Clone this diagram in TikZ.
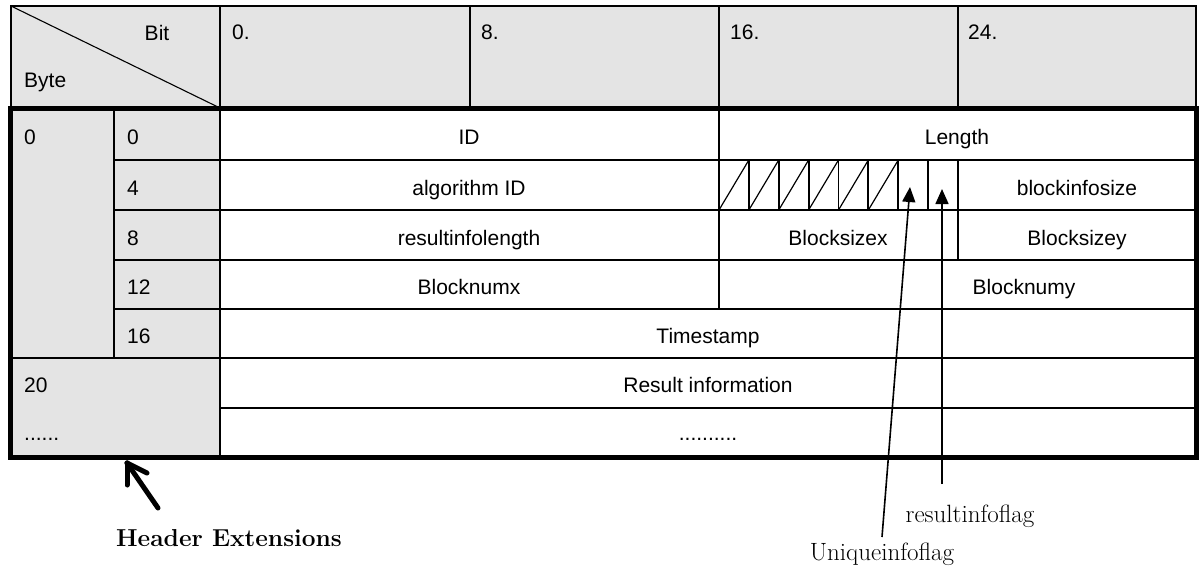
\documentclass[tikz,border=0pt]{standalone}
\usepackage{fontspec}
\newfontfamily\arialf{Liberation Sans}
\usetikzlibrary{arrows.meta}
\definecolor{cellgray}{HTML}{E4E4E4}
\begin{document}
\begin{tikzpicture}[x=1pt,y=-1pt,
  gridline/.style={line width=1.8pt},
  thickline/.style={line width=5pt},
  sans/.style={font=\arialf\fontsize{21}{25}\selectfont, inner sep=0pt, anchor=base},
  sansw/.style={sans, anchor=base west},
  serif/.style={font=\fontsize{25}{29}\selectfont, inner sep=0pt, anchor=base},
  flagarrow/.style={line width=1.6pt, -{Triangle[length=15pt,width=13pt]}},
  bigarrow/.style={line width=5pt, line cap=round, line join=round}]
\useasboundingbox (0,0) rectangle (1200,566);
% gray fills
\fill[cellgray] (11,6) rectangle (1196,108);
\fill[cellgray] (10,108) rectangle (220,457);
% header
\draw[gridline] (11,6) rectangle (1196,108);
\foreach \xx in {220,470,719,958} \draw[gridline] (\xx,6) -- (\xx,108);
\draw[line width=1.1pt] (11,6) -- (220,108);
% body horizontals
\foreach \yy in {160,210,260,309} \draw[gridline] (114,\yy) -- (1196,\yy);
\draw[gridline] (10,358) -- (1196,358);
\draw[gridline] (220,408) -- (1196,408);
% body verticals
\draw[gridline] (114,108) -- (114,358);
\draw[gridline] (220,108) -- (220,457);
\draw[gridline] (719,108) -- (719,309);
\draw[gridline] (958,160) -- (958,260);
\foreach \i in {1,...,7} \draw[gridline] ({719+29.875*\i},160) -- ({719+29.875*\i},210);
\foreach \i in {0,...,5} \draw[line width=1.2pt] ({719+29.875*\i},210) -- ({719+29.875*(\i+1)},160);
% outer thick border
\draw[thickline] (10,108) rectangle (1196,457);
% header texts
\node[sans] (bit) at (157,40) {Bit};
\node[sansw] (byte) at (24,87) {Byte};
\node[sansw] (b0) at (232,39) {0.};
\node[sansw] (b8) at (481,39) {8.};
\node[sansw] (b16) at (730,39) {16.};
\node[sansw] (b24) at (968,39) {24.};
% row labels
\node[sansw] (r0a) at (24,144) {0};
\node[sansw] (r0) at (127,144) {0};
\node[sansw] (r4) at (127,195) {4};
\node[sansw] (r8) at (127,245) {8};
\node[sansw] (r12) at (127,294) {12};
\node[sansw] (r16) at (127,343) {16};
\node[sansw] (r20) at (24,392) {20};
\node[sansw] (rdots) at (24,440) {......};
% field texts
\node[sans] (id) at (469,144) {ID};
\node[sans] (len) at (957,144) {Length};
\node[sans] (alg) at (469,195) {algorithm ID};
\node[sans] (bis) at (1077,195) {blockinfosize};
\node[sans] (ril) at (469,245) {resultinfolength};
\node[sans] (bsx) at (838,245) {Blocksizex};
\node[sans] (bsy) at (1077,245) {Blocksizey};
\node[sans] (bnx) at (469,294) {Blocknumx};
\node[sans] (bny) at (1024,294) {Blocknumy};
\node[sans] (ts) at (708,343) {Timestamp};
\node[sans] (ri) at (708,392) {Result information};
\node[sans] (dots) at (708,440) {..........};
% annotations
\node[serif] (uif) at (882,560) {Uniqueinfoflag};
\node[serif] (rif) at (970,522) {resultinfoflag};
\node[serif, font=\bfseries\fontsize{24.5}{29}\selectfont] (hext) at (229,546) {Header Extensions};
\coordinate (uifs) at (882,537);
\coordinate (uift) at (910,187);
\coordinate (rifs) at (942,484);
\coordinate (rift) at (942,189);
\coordinate (hexs) at (158,508);
\coordinate (hext2) at (127,463);
\draw[flagarrow] (uifs) -- (uift);
\draw[flagarrow] (rifs) -- (rift);
\draw[bigarrow] (hexs) -- (hext2);
\draw[bigarrow] (hext2) -- ++(0,22);
\draw[bigarrow] (hext2) -- ++(20,10);
\end{tikzpicture}
\end{document}
